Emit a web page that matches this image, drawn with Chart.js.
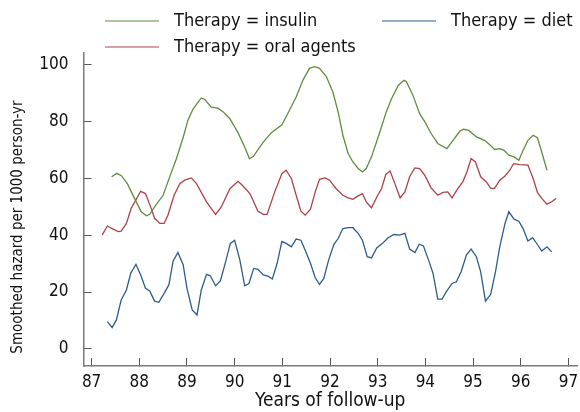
<!DOCTYPE html>
<html>
<head>
<meta charset="utf-8">
<script src="https://cdn.jsdelivr.net/npm/chart.js@4.4.1/dist/chart.umd.min.js"></script>
<style>
  html, body { margin: 0; padding: 0; background: #fff; }
  canvas { display: block; }
</style>
</head>
<body>
<canvas id="hazard-chart" width="580" height="412"></canvas>
<script>
// Smoothed hazard (per 1000 person-yr) by therapy group over follow-up years
const insulinYears = [87.42, 87.53, 87.63, 87.75, 87.9, 88.04, 88.15, 88.22, 88.32, 88.5, 88.6, 88.78, 88.92, 89.02, 89.13, 89.3, 89.37, 89.51, 89.65, 89.76, 89.9, 90.07, 90.21, 90.31, 90.39, 90.6, 90.77, 90.99, 91.12, 91.29, 91.43, 91.57, 91.68, 91.78, 91.92, 92.06, 92.17, 92.27, 92.38, 92.48, 92.59, 92.68, 92.76, 92.87, 93.04, 93.18, 93.29, 93.43, 93.55, 93.6, 93.74, 93.88, 93.99, 94.12, 94.26, 94.45, 94.58, 94.72, 94.8, 94.91, 95.07, 95.24, 95.35, 95.45, 95.56, 95.65, 95.75, 95.86, 95.96, 96.05, 96.15, 96.26, 96.35, 96.44, 96.55];
const insulinHazard = [60.5, 61.7, 60.8, 58.1, 52.9, 48.2, 46.8, 47.3, 49.9, 54, 58.7, 66.9, 74.3, 80.4, 84.4, 88.2, 87.7, 85, 84.6, 83.3, 80.9, 76, 71, 66.9, 67.6, 72.7, 76, 78.8, 82.9, 88.5, 94.4, 98.6, 99.2, 98.6, 95.8, 90.3, 83.3, 75.1, 68.7, 65.7, 63.4, 62.2, 63.4, 67.5, 76, 83.3, 87.9, 92.6, 94.4, 94, 89.1, 82.7, 79.8, 75.7, 72.2, 70.4, 73.3, 76.5, 77.2, 76.8, 74.5, 73.3, 71.8, 70.1, 70.4, 69.8, 68.1, 67.5, 66.3, 69.8, 73.3, 75.1, 74.2, 69.2, 62.8];

const oralYears = [87.22, 87.33, 87.45, 87.56, 87.62, 87.73, 87.83, 88.03, 88.13, 88.25, 88.32, 88.43, 88.52, 88.6, 88.73, 88.85, 88.95, 89.09, 89.2, 89.41, 89.6, 89.72, 89.9, 90.07, 90.16, 90.32, 90.49, 90.6, 90.68, 90.84, 90.99, 91.08, 91.19, 91.29, 91.39, 91.48, 91.59, 91.69, 91.78, 91.9, 91.99, 92.13, 92.27, 92.38, 92.48, 92.59, 92.68, 92.76, 92.87, 93.0, 93.08, 93.17, 93.26, 93.36, 93.47, 93.57, 93.67, 93.78, 93.88, 93.99, 94.12, 94.26, 94.37, 94.47, 94.56, 94.68, 94.79, 94.87, 94.96, 95.05, 95.16, 95.28, 95.37, 95.45, 95.56, 95.67, 95.77, 95.85, 95.98, 96.15, 96.26, 96.35, 96.44, 96.55, 96.65, 96.74];
const oralHazard = [40, 43.2, 42.1, 41.2, 41.4, 44.1, 49.4, 55.4, 54.6, 49.4, 45.9, 44.1, 44.1, 47, 54, 58.1, 59.3, 60.1, 58.1, 51.7, 47.3, 49.9, 56.3, 58.9, 57.5, 54.6, 48.4, 47.3, 47.3, 55.2, 61.6, 62.8, 59.9, 54, 48.4, 47, 49.1, 55.2, 59.6, 60.1, 59.3, 56.3, 54, 53.1, 52.6, 53.8, 54.6, 51.7, 49.6, 54, 56.3, 61.3, 62.5, 58.1, 53.1, 55.2, 60.5, 63.6, 63.4, 61, 56.6, 54, 55, 55.2, 53.1, 56.3, 58.9, 62.2, 66.9, 65.7, 60.5, 58.7, 56.4, 56.4, 59.3, 60.8, 62.8, 65.1, 64.8, 64.6, 59.9, 55, 52.9, 50.9, 51.7, 52.9];

const dietYears = [87.33, 87.43, 87.52, 87.62, 87.73, 87.82, 87.93, 88.03, 88.13, 88.22, 88.32, 88.41, 88.52, 88.62, 88.71, 88.81, 88.92, 89.0, 89.11, 89.21, 89.3, 89.41, 89.49, 89.6, 89.7, 89.81, 89.91, 90.0, 90.11, 90.21, 90.3, 90.4, 90.49, 90.6, 90.7, 90.79, 90.89, 90.99, 91.08, 91.19, 91.29, 91.39, 91.48, 91.59, 91.69, 91.78, 91.87, 91.97, 92.08, 92.17, 92.27, 92.38, 92.48, 92.59, 92.68, 92.78, 92.87, 92.98, 93.1, 93.22, 93.34, 93.46, 93.57, 93.67, 93.78, 93.87, 93.96, 94.08, 94.16, 94.26, 94.35, 94.45, 94.56, 94.65, 94.75, 94.86, 94.96, 95.07, 95.16, 95.26, 95.37, 95.47, 95.56, 95.67, 95.75, 95.86, 95.96, 96.05, 96.15, 96.25, 96.35, 96.44, 96.55, 96.65];
const dietHazard = [9.6, 7.5, 10.2, 17.2, 20.7, 26.6, 29.7, 26, 21.3, 20.4, 16.8, 16.4, 19.5, 22.5, 30.9, 33.9, 29.6, 21.3, 13.7, 11.9, 20.7, 26.2, 25.7, 22.2, 23.9, 30.6, 37.1, 38.2, 31.2, 22.2, 23, 28.3, 28, 26, 25.6, 24.6, 30, 37.8, 37.1, 35.9, 38.6, 38.2, 34.7, 30.1, 25, 22.7, 24.8, 31.2, 36.7, 38.8, 42.3, 42.6, 42.6, 40.6, 38.2, 32.4, 32, 35.5, 37.1, 39.1, 40.2, 40, 40.6, 35.1, 33.9, 36.8, 36.2, 30.6, 26.6, 17.5, 17.5, 20.4, 23, 23.6, 27.1, 33, 35.1, 32.4, 27.1, 16.8, 19.2, 27.1, 35.9, 44.1, 48.2, 45.6, 44.9, 42.3, 37.9, 39.1, 36.7, 34.4, 35.9, 34.1];

const yearTicks = [87, 88, 89, 90, 91, 92, 93, 94, 95, 96, 97];
const hazardTicks = [0, 20, 40, 60, 80, 100];

const FONT = '"DejaVu Sans Condensed", "DejaVu Sans", sans-serif';
const AXIS_GREY = "#7a7a7a";
const TEXT = "#111";

const toPoints = (xs, ys) => xs.map((x, i) => ({ x: x, y: ys[i] }));

// legend entries sit in two rows above the plot, drawn by hand
const legendSlots = {
    "Therapy = insulin": { x: 105, y: 21 },
    "Therapy = diet": { x: 382, y: 21 },
    "Therapy = oral agents": { x: 105, y: 47 },
};

const handLegend = {
    id: "handLegend",
    afterDraw(chart) {
        const { ctx } = chart;
        ctx.save();
        ctx.font = `18px ${FONT}`;
        ctx.textBaseline = "middle";
        ctx.fillStyle = TEXT;
        chart.data.datasets.forEach((ds) => {
            const slot = legendSlots[ds.label];
            if (!slot) return;
            ctx.strokeStyle = ds.borderColor;
            ctx.lineWidth = 1;
            ctx.beginPath();
            ctx.moveTo(slot.x, slot.y);
            ctx.lineTo(slot.x + 54, slot.y);
            ctx.stroke();
            ctx.fillText(ds.label, slot.x + 69, slot.y);
        });

        // y axis title, rotated
        ctx.font = `15px ${FONT}`;
        ctx.translate(18, 227);
        ctx.rotate(-Math.PI / 2);
        ctx.textAlign = "center";
        ctx.fillText("Smoothed hazard per 1000 person-yr", 0, 0);
        ctx.restore();
    },
};

const ctx = document.getElementById("hazard-chart");

new Chart(ctx, {
    type: "line",
    data: {
        datasets: [
            {
                label: "Therapy = insulin",
                data: toPoints(insulinYears, insulinHazard),
                borderColor: "#5f8d3b",
            },
            {
                label: "Therapy = diet",
                data: toPoints(dietYears, dietHazard),
                borderColor: "#2b5c8f",
            },
            {
                label: "Therapy = oral agents",
                data: toPoints(oralYears, oralHazard),
                borderColor: "#ae4049",
            },
        ],
    },
    options: {
        responsive: false,
        animation: false,
        devicePixelRatio: 1,
        layout: {
            padding: { top: 53, right: 3, left: 0, bottom: 0 },
        },
        elements: {
            point: { radius: 0 },
            line: { borderWidth: 1.3, tension: 0 },
        },
        scales: {
            x: {
                type: "linear",
                min: 86.83,
                max: 97.18,
                afterBuildTicks: (scale) => {
                    scale.ticks = yearTicks.map((v) => ({ value: v }));
                },
                afterFit: (scale) => {
                    scale.height = 46;
                    // the end labels fit inside the canvas already
                    scale.paddingLeft = 0;
                    scale.paddingRight = 0;
                },
                border: { color: AXIS_GREY, width: 1.5 },
                grid: {
                    drawOnChartArea: false,
                    tickLength: -8,
                    color: "#555",
                    lineWidth: 1,
                },
                ticks: {
                    autoSkip: false,
                    maxRotation: 0,
                    padding: 14,
                    color: TEXT,
                    font: { family: FONT, size: 17 },
                },
                title: {
                    display: true,
                    text: "Years of follow-up",
                    color: TEXT,
                    font: { family: FONT, size: 19 },
                    padding: { top: 0, bottom: 0 },
                },
            },
            y: {
                min: -6,
                max: 104,
                afterBuildTicks: (scale) => {
                    scale.ticks = hazardTicks.map((v) => ({ value: v }));
                },
                afterFit: (scale) => {
                    scale.width = 83.5;
                },
                border: { color: AXIS_GREY, width: 1.5 },
                grid: {
                    drawOnChartArea: false,
                    tickLength: -8,
                    color: "#555",
                    lineWidth: 1,
                },
                ticks: {
                    padding: 23,
                    color: TEXT,
                    font: { family: FONT, size: 17 },
                },
            },
        },
        plugins: {
            legend: { display: false },
            tooltip: { enabled: false },
        },
    },
    plugins: [handLegend],
});
</script>
</body>
</html>
